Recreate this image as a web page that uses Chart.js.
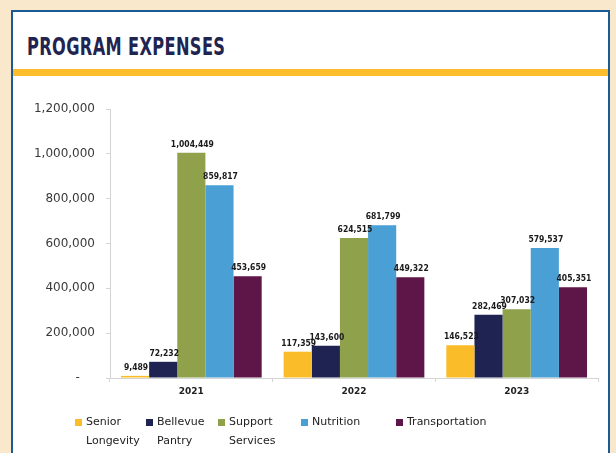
<!DOCTYPE html>
<html>
<head>
<meta charset="utf-8">
<script src="https://cdn.jsdelivr.net/npm/chart.js@4.4.1/dist/chart.umd.min.js"></script>
<style>
  html, body { margin: 0; padding: 0; }
  body { width: 616px; height: 453px; background: #f9e8cc; position: relative; overflow: hidden; font-family: "DejaVu Sans", sans-serif; }
  #panel { position: absolute; left: 11px; top: 10px; width: 595px; height: 460px; background: #fff; border: 2px solid #1b5b93; }
  #title { position: absolute; left: 27px; top: 32px; font: bold 25px "Liberation Sans Narrow", "DejaVu Sans Condensed", sans-serif; color: #1f2450; transform: scaleX(0.72); transform-origin: left top; white-space: nowrap; letter-spacing: 0.5px; }
  #rule { position: absolute; left: 13px; top: 69px; width: 595px; height: 7px; background: #fbbd2b; }
  #chart { position: absolute; left: 0; top: 0; }
  #legend { position: absolute; left: 75px; top: 416px; display: flex; font-size: 11px; color: #222; }
  .item { display: flex; align-items: flex-start; }
  .box { width: 7px; height: 7px; margin-top: 3px; margin-right: 4px; flex: none; }
  .txt { line-height: 19px; margin-top: -4px; }
</style>
</head>
<body>
<div id="panel"></div>
<div id="title">PROGRAM EXPENSES</div>
<div id="rule"></div>
<canvas id="chart" width="616" height="453"></canvas>
<div id="legend"></div>
<script>
// data
const years = ['2021', '2022', '2023'];
const seriesNames = ['Senior Longevity', 'Bellevue Pantry', 'Support Services', 'Nutrition', 'Transportation'];
const seniorLongevity = [9489, 117359, 146523];
const bellevuePantry = [72232, 143600, 282469];
const supportServices = [1004449, 624515, 307032];
const nutrition = [859817, 681799, 579537];
const transportation = [453659, 449322, 405351];
const yTicks = [0, 200000, 400000, 600000, 800000, 1000000, 1200000];

const colors = ['#fbbc2a', '#1e2352', '#8fa24b', '#4a9fd5', '#5e1548'];
const allSeries = [seniorLongevity, bellevuePantry, supportServices, nutrition, transportation];

function fmt(v) {
  return v.toLocaleString('en-US');
}

// value labels above each bar
const valueLabels = {
  id: 'valueLabels',
  afterDatasetsDraw(chart) {
    const ctx = chart.ctx;
    ctx.save();
    ctx.font = 'bold 8.5px "DejaVu Sans Condensed", "DejaVu Sans", sans-serif';
    ctx.fillStyle = '#1a1a1a';
    ctx.textAlign = 'center';
    ctx.textBaseline = 'bottom';
    chart.data.datasets.forEach(function (ds, i) {
      chart.getDatasetMeta(i).data.forEach(function (bar, j) {
        ctx.fillText(fmt(ds.data[j]), bar.x + 1, bar.y - 4);
      });
    });
    ctx.restore();
  }
};

const chart = new Chart(document.getElementById('chart'), {
  type: 'bar',
  data: {
    labels: years,
    datasets: allSeries.map(function (values, i) {
      return {
        label: seriesNames[i],
        data: values,
        backgroundColor: colors[i],
        borderWidth: 0,
        categoryPercentage: 0.865,
        barPercentage: 1
      };
    })
  },
  options: {
    responsive: false,
    animation: false,
    layout: { padding: { top: 109, right: 18, bottom: 0, left: 0 } },
    plugins: {
      legend: { display: false },
      tooltip: { enabled: false }
    },
    scales: {
      x: {
        afterFit: function (scale) { scale.height = 75; },
        border: { color: '#d4d4d4', width: 1 },
        grid: { display: true, drawOnChartArea: false, tickLength: 4, color: '#d4d4d4' },
        ticks: {
          padding: 4,
          color: '#222',
          font: { family: 'DejaVu Sans', size: 9, weight: 'bold' }
        }
      },
      y: {
        min: 0,
        max: 1200000,
        afterFit: function (scale) { scale.width = 110; },
        afterBuildTicks: function (scale) { scale.ticks = yTicks.map(function (v) { return { value: v }; }); },
        border: { color: '#d4d4d4', width: 1 },
        grid: { display: true, drawOnChartArea: false, tickLength: 4, color: '#d4d4d4' },
        ticks: {
          padding: 11,
          color: '#3a3a3a',
          font: { family: 'DejaVu Sans', size: 12 },
          callback: function (v) { return v === 0 ? '-    ' : fmt(v); }
        }
      }
    }
  },
  plugins: [valueLabels]
});

// legend below the chart, built from the series names and colours
const itemWidths = [71, 72, 83, 95, 110];
const legend = document.getElementById('legend');
seriesNames.forEach(function (name, i) {
  const item = document.createElement('div');
  item.className = 'item';
  item.style.width = itemWidths[i] + 'px';
  const box = document.createElement('span');
  box.className = 'box';
  box.style.background = colors[i];
  const txt = document.createElement('span');
  txt.className = 'txt';
  txt.textContent = name;
  item.appendChild(box);
  item.appendChild(txt);
  legend.appendChild(item);
});
</script>
</body>
</html>
